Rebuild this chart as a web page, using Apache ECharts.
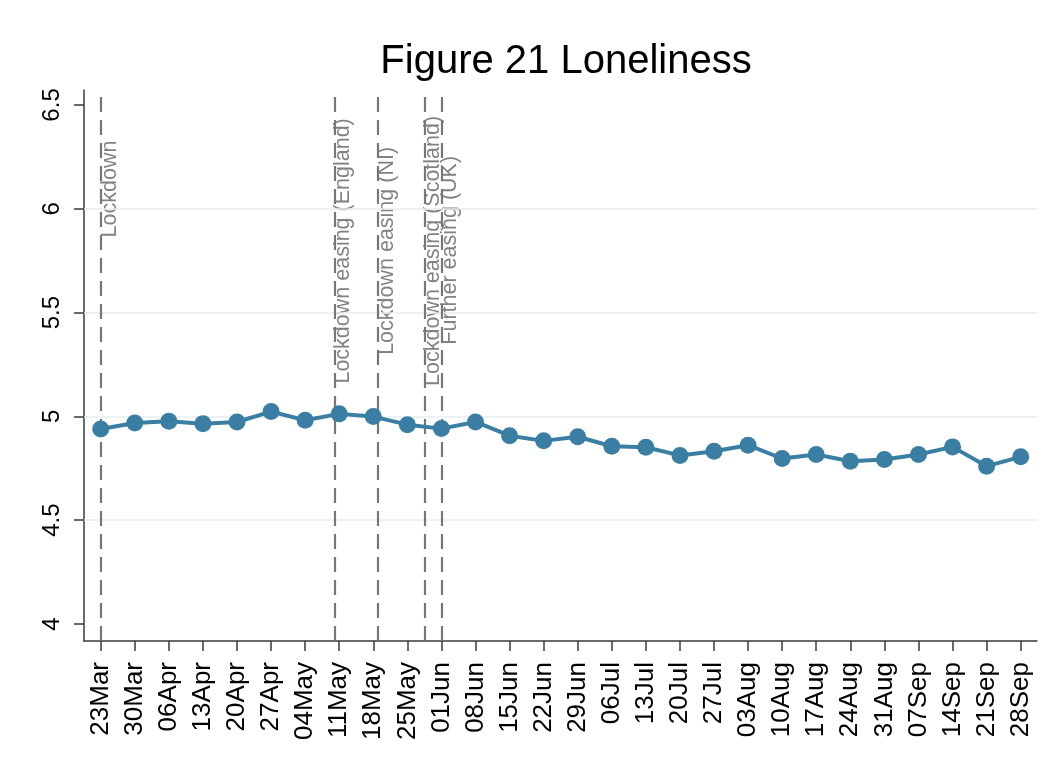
<!DOCTYPE html>
<html>
<head>
<meta charset="utf-8">
<script src="https://cdn.jsdelivr.net/npm/echarts@6/dist/echarts.min.js"></script>
<style>
html,body{margin:0;padding:0;background:#fff;}
#chart{width:1052px;height:776px;}
</style>
</head>
<body>
<div id="chart"></div>
<script>
// Weekly categories (days from 23 Mar) and values
const weekLabels = ['23Mar','30Mar','06Apr','13Apr','20Apr','27Apr','04May','11May','18May','25May','01Jun','08Jun','15Jun','22Jun','29Jun','06Jul','13Jul','20Jul','27Jul','03Aug','10Aug','17Aug','24Aug','31Aug','07Sep','14Sep','21Sep','28Sep'];
const weekDays = [0,7,14,21,28,35,42,49,56,63,70,77,84,91,98,105,112,119,126,133,140,147,154,161,168,175,182,189];
const loneliness = [4.939,4.968,4.976,4.965,4.973,5.023,4.981,5.012,4.999,4.960,4.941,4.973,4.907,4.882,4.902,4.856,4.851,4.812,4.832,4.861,4.797,4.816,4.784,4.792,4.816,4.853,4.760,4.805];

// Policy events
const eventNames = ['Lockdown','Lockdown easing (England)','Lockdown easing (NI)','Lockdown easing (Scotland)','Further easing (UK)'];
const eventDays = [0,48,57,66.5,70];
const eventLabelCenter = [6.095,5.797,5.797,5.797,5.80];

// Y ticks
const yTicks = [4,4.5,5,5.5,6,6.5];
const yGrid = [4.5,5,5.5,6];

const chart = echarts.init(document.getElementById('chart'), null, {renderer:'canvas'});
const font = 'Liberation Sans, Arial, Helvetica, sans-serif';

const option = {
  backgroundColor:'#ffffff',
  animation:false,
  title:{
    text:'Figure 21 Loneliness',
    left:561, textAlign:'center', top:37,
    textStyle:{fontFamily:font,fontSize:40,fontWeight:'normal',color:'#000'}
  },
  grid:{left:84,right:15,top:90,bottom:135,containLabel:false},
  xAxis:{
    type:'value', min:-3.43, max:192.35,
    axisLine:{show:true,onZero:false,lineStyle:{color:'#3a3a3a',width:1.5}},
    axisTick:{show:true,length:10,lineStyle:{color:'#3a3a3a',width:1.5},customValues:weekDays},
    axisLabel:{show:true,rotate:90,margin:21,fontFamily:font,fontSize:26,color:'#000',
      customValues:weekDays,
      formatter:function(v){const i=weekDays.indexOf(Math.round(v));return i>=0?weekLabels[i]:'';}},
    splitLine:{show:false}
  },
  yAxis:{
    type:'value', min:3.918, max:6.572,
    axisLine:{show:true,onZero:false,lineStyle:{color:'#3a3a3a',width:1.5}},
    axisTick:{show:true,length:10,lineStyle:{color:'#3a3a3a',width:1.5},customValues:yTicks},
    axisLabel:{show:true,rotate:90,margin:20,fontFamily:font,fontSize:24,color:'#000',
      customValues:yTicks,
      formatter:function(v){return String(Math.round(v*10)/10);}},
    splitLine:{show:false}
  },
  series:[
    {
      type:'line', data:[], z:1, silent:true,
      markLine:{
        silent:true, symbol:'none', animation:false,
        lineStyle:{color:'#e6eef0',width:1.5,type:'solid'},
        label:{show:false},
        data:yGrid.map(v=>({yAxis:v}))
      }
    },
    {
      type:'line', data:[], z:2, silent:true,
      markLine:{
        silent:true, symbol:'none', animation:false,
        lineStyle:{color:'#777777',width:2.2,type:[15,8]},
        label:{show:false},
        data:eventDays.map(d=>({xAxis:d}))
      }
    },
    {
      type:'scatter', z:3, silent:true, symbolSize:0,
      data:eventDays.map((d,i)=>[d,eventLabelCenter[i],eventNames[i]]),
      label:{show:true,position:'inside',rotate:90,offset:[0,9],
        align:'center',verticalAlign:'middle',
        fontFamily:font,fontSize:21.5,color:'#636363',
        formatter:p=>p.data[2]}
    },
    {
      type:'line', z:5,
      data:weekDays.map((d,i)=>[d,loneliness[i]]),
      symbol:'circle', symbolSize:17,
      itemStyle:{color:'#3a7fa3'},
      lineStyle:{color:'#3a7fa3',width:4}
    }
  ]
};
chart.setOption(option);
</script>
</body>
</html>
